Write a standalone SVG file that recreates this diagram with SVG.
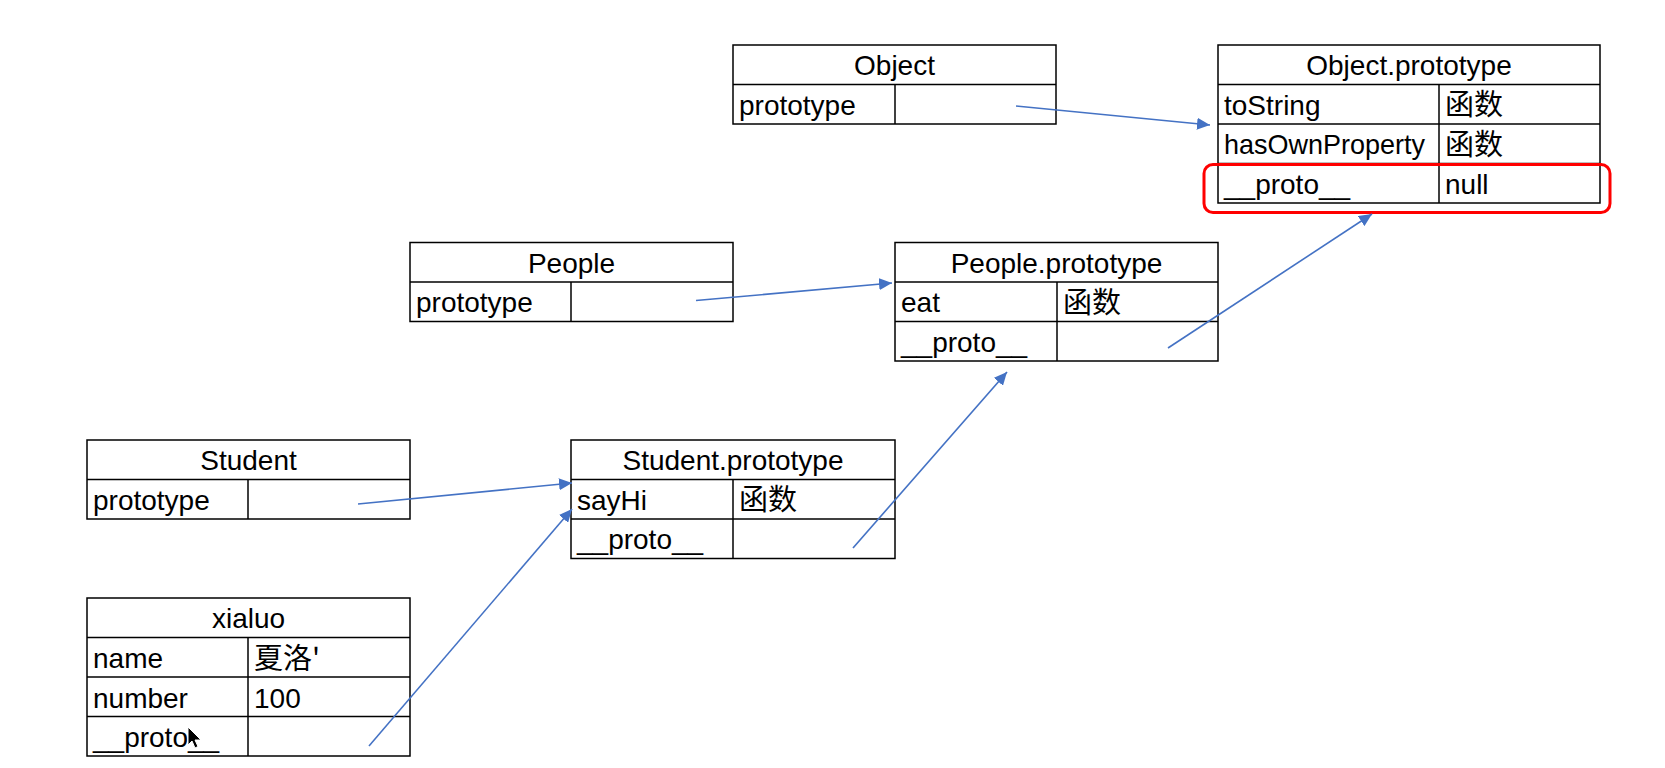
<svg xmlns="http://www.w3.org/2000/svg" width="1665" height="768" viewBox="0 0 1665 768">
<style>
.cell{fill:#fff;stroke:#000;stroke-width:1.5}
.ln{stroke:#000;stroke-width:1.5;fill:none}
.t{font-family:"Liberation Sans","Noto Sans CJK SC",sans-serif;font-size:28px;fill:#000}
.h{text-anchor:middle}
.zh{font-family:"Noto Sans CJK SC","Liberation Sans",sans-serif;font-size:29px;fill:#000}
.con{stroke:#4472C4;stroke-width:1.6;fill:none;marker-end:url(#ah)}
</style>
<defs>
<marker id="ah" markerUnits="userSpaceOnUse" markerWidth="14" markerHeight="12" refX="13" refY="6" orient="auto">
<path d="M0,0 L13,6 L0,12 z" fill="#4472C4"/>
</marker>
</defs>
<rect width="1665" height="768" fill="#fff"/>

<g id="object">
<rect class="cell" x="733" y="45" width="323" height="79"/>
<line class="ln" x1="733" y1="84.5" x2="1056" y2="84.5"/>
<line class="ln" x1="895" y1="84.5" x2="895" y2="124"/>
<text class="t h" x="894.5" y="75">Object</text>
<text class="t" x="739" y="114.5">prototype</text>
</g>

<g id="object-prototype">
<rect class="cell" x="1218" y="45" width="382" height="158"/>
<line class="ln" x1="1218" y1="84.5" x2="1600" y2="84.5"/>
<line class="ln" x1="1218" y1="124" x2="1600" y2="124"/>
<line class="ln" x1="1218" y1="163.5" x2="1600" y2="163.5"/>
<line class="ln" x1="1439" y1="84.5" x2="1439" y2="203"/>
<text class="t h" x="1409" y="75">Object.prototype</text>
<text class="t" x="1224" y="114.5">toString</text>
<text class="zh" x="1445" y="115">函数</text>
<text class="t" x="1224" y="154" textLength="201" lengthAdjust="spacingAndGlyphs">hasOwnProperty</text>
<text class="zh" x="1445" y="154.5">函数</text>
<text class="t" x="1224" y="193.5">__proto__</text>
<text class="t" x="1445" y="193.5">null</text>
<rect x="1204" y="164.5" width="406" height="48" rx="9" fill="none" stroke="#F00" stroke-width="3"/>
</g>

<g id="people">
<rect class="cell" x="410" y="242.5" width="323" height="79"/>
<line class="ln" x1="410" y1="282" x2="733" y2="282"/>
<line class="ln" x1="571" y1="282" x2="571" y2="321.5"/>
<text class="t h" x="571.5" y="272.5">People</text>
<text class="t" x="416" y="312">prototype</text>
</g>

<g id="people-prototype">
<rect class="cell" x="895" y="242.5" width="323" height="118.5"/>
<line class="ln" x1="895" y1="282" x2="1218" y2="282"/>
<line class="ln" x1="895" y1="321.5" x2="1218" y2="321.5"/>
<line class="ln" x1="1057" y1="282" x2="1057" y2="361"/>
<text class="t h" x="1056.5" y="272.5">People.prototype</text>
<text class="t" x="901" y="312">eat</text>
<text class="zh" x="1063" y="312.5">函数</text>
<text class="t" x="901" y="351.5">__proto__</text>
</g>

<g id="student">
<rect class="cell" x="87" y="440" width="323" height="79"/>
<line class="ln" x1="87" y1="479.5" x2="410" y2="479.5"/>
<line class="ln" x1="248" y1="479.5" x2="248" y2="519"/>
<text class="t h" x="248.5" y="470">Student</text>
<text class="t" x="93" y="509.5">prototype</text>
</g>

<g id="student-prototype">
<rect class="cell" x="571" y="440" width="324" height="118.5"/>
<line class="ln" x1="571" y1="479.5" x2="895" y2="479.5"/>
<line class="ln" x1="571" y1="519" x2="895" y2="519"/>
<line class="ln" x1="733" y1="479.5" x2="733" y2="558.5"/>
<text class="t h" x="733" y="470">Student.prototype</text>
<text class="t" x="577" y="509.5">sayHi</text>
<text class="zh" x="739" y="510">函数</text>
<text class="t" x="577" y="549">__proto__</text>
</g>

<g id="xialuo">
<rect class="cell" x="87" y="598" width="323" height="158"/>
<line class="ln" x1="87" y1="637.5" x2="410" y2="637.5"/>
<line class="ln" x1="87" y1="677" x2="410" y2="677"/>
<line class="ln" x1="87" y1="716.5" x2="410" y2="716.5"/>
<line class="ln" x1="248" y1="637.5" x2="248" y2="756"/>
<text class="t h" x="248.5" y="628">xialuo</text>
<text class="t" x="93" y="668">name</text>
<text class="zh" x="254" y="668.5">夏洛'</text>
<text class="t" x="93" y="707.5">number</text>
<text class="t" x="254" y="707.5">100</text>
<text class="t" x="93" y="747">__proto__</text>
<path d="M188,727 L188,745 L192,741 L195,748 L198,746.5 L195,740 L201,740 z" fill="#000" stroke="#fff" stroke-width="1"/>
</g>

<g id="connectors">
<line class="con" x1="1016" y1="106" x2="1210" y2="125"/>
<line class="con" x1="696" y1="300.5" x2="892" y2="283"/>
<line class="con" x1="1168" y1="348" x2="1372" y2="214"/>
<line class="con" x1="358" y1="504" x2="572" y2="483"/>
<line class="con" x1="853" y1="548" x2="1007" y2="372"/>
<line class="con" x1="369" y1="746" x2="572" y2="509"/>
</g>
</svg>
